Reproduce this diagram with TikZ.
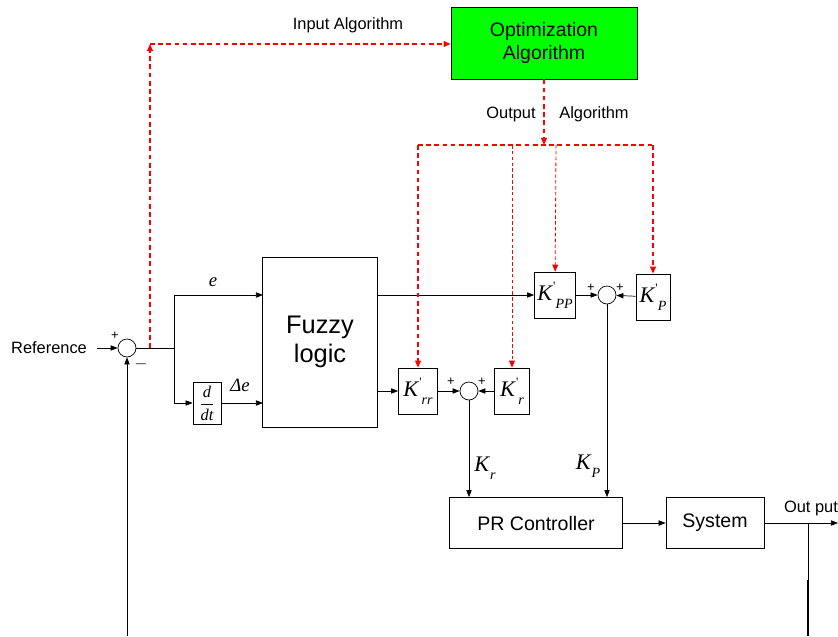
\documentclass[tikz,border=0pt]{standalone}
\usepackage{fontspec}
\setmainfont{Liberation Sans}
\newfontfamily\tms{Liberation Serif}
\usetikzlibrary{arrows.meta}
\def\px{0.03cm}
% gain symbol: K, optional prime, subscript
\newcommand{\kname}[2][]{{\tms\itshape K\raisebox{0.45em}{\fontsize{11}{11}\selectfont\upshape\kern0.08em #1}\raisebox{-0.35em}{\fontsize{12}{12}\selectfont #2}}}
\tikzset{
  blk/.style={draw, line width=0.6pt, inner sep=0pt, align=center},
  sum/.style={draw, circle, line width=0.6pt, minimum size=18*\px, inner sep=0pt},
  arr/.style={line width=0.6pt, -{Triangle[length=6pt,width=4.5pt]}},
  ln/.style={line width=0.6pt},
  rd/.style={red, dashed, line width=1.2pt, dash pattern=on 4pt off 3pt},
  rdt/.style={red, dashed, line width=0.7pt, dash pattern=on 3pt off 2pt},
  rarr/.style={-{Triangle[length=6pt,width=5pt]}},
  gain/.style={blk, font=\fontsize{19}{21}\selectfont},
  lbl/.style={font=\fontsize{14}{16}\selectfont},
  pm/.style={font=\fontsize{11}{12}\selectfont, inner sep=0pt}
}
\begin{document}
\begin{tikzpicture}[x=\px, y=-\px]
  \useasboundingbox (0,0) rectangle (838,636);
  % blocks
  \node[blk, fill=green, minimum width=186*\px, minimum height=72*\px,
        font=\fontsize{16.6}{20}\selectfont] (opt) at (544,43) {Optimization\\Algorithm};
  \node[blk, minimum width=115*\px, minimum height=170*\px,
        font=\fontsize{21.7}{25}\selectfont] (fz) at (320,342) {Fuzzy\\logic};
  \node[blk, minimum width=28*\px, minimum height=42*\px,
        font=\fontsize{14}{15}\selectfont\tms\itshape] (ddt) at (207,403) {$\displaystyle\frac{\mbox{d}}{\mbox{dt}}$};
  \node[gain, minimum width=41*\px, minimum height=46*\px] (kpp) at (555,295) {\kname[']{PP}};
  \node[gain, minimum width=34*\px, minimum height=46*\px] (kp) at (653,297) {\kname[']{P}};
  \node[gain, minimum width=39*\px, minimum height=46*\px] (krr) at (418,391) {\kname[']{rr}};
  \node[gain, minimum width=35*\px, minimum height=46*\px] (kr) at (512,391) {\kname[']{r}};
  \node[blk, minimum width=173*\px, minimum height=51*\px,
        font=\fontsize{16.7}{20}\selectfont] (pr) at (536,523) {PR Controller};
  \node[blk, minimum width=98*\px, minimum height=51*\px,
        font=\fontsize{16.7}{20}\selectfont] (sys) at (715,523) {System};
  \node[sum] (s1) at (127,348) {};
  \node[sum] (s2) at (469,391) {};
  \node[sum] (s3) at (607,295) {};

  % texts
  \node[lbl] (ref) at (49,348) {Reference};
  \node[lbl] (inalg) at (348,25) {Input Algorithm};
  \node[lbl] (outl) at (511,114) {Output};
  \node[lbl] (outr) at (594,114) {Algorithm};
  \node[lbl] (outp) at (811,508) {Out put};
  \node[font=\fontsize{16}{18}\selectfont\tms\itshape] (lbe) at (213,282) {e};
  \node[font=\fontsize{16}{18}\selectfont\tms\itshape] (lbde) at (240,385) {Δe};
  \node[font=\fontsize{19}{21}\selectfont] (lbkr) at (485,468) {\kname{r}};
  \node[font=\fontsize{19}{21}\selectfont] (lbkp) at (588,466) {\kname{P}};
  \node[pm] (p1) at (115,336) {+};
  \node[pm, font=\fontsize{14}{14}\selectfont] (m1) at (141,364) {$-$};
  \node[pm] (p2) at (451,382) {+};
  \node[pm] (p3) at (482,382) {+};
  \node[pm] (p4) at (591,288) {+};
  \node[pm] (p5) at (620,288) {+};

  % points
  \coordinate (refin) at (97,348);
  \coordinate (br) at (174,348);
  \coordinate (ein) at (263,295);
  \coordinate (dein) at (263,403);
  \coordinate (fzo1) at (378,295);
  \coordinate (fzo2) at (378,391);
  \coordinate (tap) at (150,348);
  \coordinate (cnr) at (150,44);
  \coordinate (bus) at (544,145);
  \coordinate (busl) at (418,145);
  \coordinate (busr) at (653,145);
  \coordinate (yout) at (838,523);
  \coordinate (fbk) at (808,523);
  \coordinate (fbkm) at (808,580);
  \coordinate (fbkb) at (808,636);
  \coordinate (s1b) at (127,636);

  % signal paths
  \draw[arr] (refin) -- (s1);
  \draw[ln] (s1) -- (br);
  \draw[arr] (br) |- (ein);
  \draw[arr] (br) |- (ddt);
  \draw[arr] (ddt) -- (dein);
  \draw[arr] (fzo1) -- (kpp.west);
  \draw[arr] (fzo2) -- (krr);
  \draw[arr] (krr) -- (s2);
  \draw[arr] (kr) -- (s2);
  \draw[arr] (kpp) -- (s3);
  \draw[arr] (kp) -- (s3);
  \draw[arr] (s2) -- (s2 |- pr.north);
  \draw[arr] (s3) -- (s3 |- pr.north);
  \draw[arr] (pr) -- (sys);
  \draw[arr] (sys) -- (yout);
  \draw[ln] (fbk) -- (fbkb);
  \draw[line width=1.4pt] (fbkm) -- (fbkb);
  \draw[arr] (s1b) -- (s1);

  % optimisation links
  \draw[rd, rarr] (tap) -- (cnr);
  \draw[rd, rarr] (cnr) -- (opt.west |- cnr);
  \draw[rd, rarr] (opt) -- (bus);
  \draw[rd] (busl) -- (busr);
  \draw[rd, rarr] (busl) -- (krr);
  \draw[rd, rarr] (busr) -- (kp);
  \draw[rdt, rarr] (kr |- bus) -- (kr);
  \draw[rdt, rarr] (556,145) -- (kpp);
\end{tikzpicture}
\end{document}
